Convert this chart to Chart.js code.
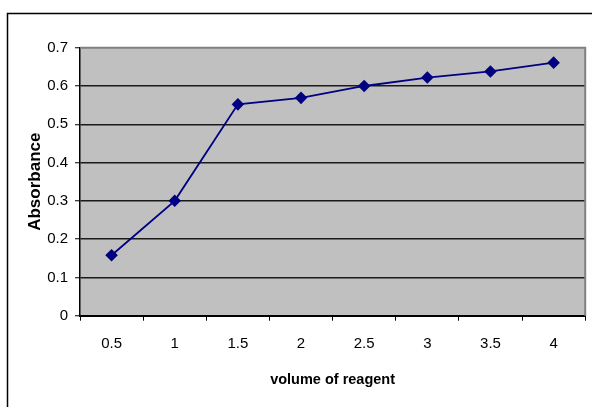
<!DOCTYPE html>
<html>
<head>
<meta charset="utf-8">
<script src="https://cdn.jsdelivr.net/npm/chart.js@4/dist/chart.umd.min.js"></script>
<style>
  html, body { margin: 0; padding: 0; background: #fff; }
  #wrap { width: 592px; height: 407px; position: relative; }
</style>
</head>
<body>
<div id="wrap"><canvas id="c" width="592" height="407"></canvas></div>
<script>
// Reagent volume (categories) and measured absorbance
const volumes = ['0.5', '1', '1.5', '2', '2.5', '3', '3.5', '4'];
const absorbance = [0.158, 0.300, 0.552, 0.569, 0.600, 0.622, 0.638, 0.661];
const yTicks = [0, 0.1, 0.2, 0.3, 0.4, 0.5, 0.6, 0.7];

const FONT = '"Liberation Sans", Arial, sans-serif';

// Grey plot background, grey plot frame and the black outer chart frame
const framePlugin = {
  id: 'frames',
  beforeDraw(chart) {
    const { ctx, chartArea: a } = chart;
    ctx.save();
    ctx.fillStyle = '#ffffff';
    ctx.fillRect(0, 0, chart.width, chart.height);
    ctx.fillStyle = '#c0c0c0';
    ctx.fillRect(a.left, a.top, a.right - a.left, a.bottom - a.top);
    // outer frame (left and top edges)
    ctx.strokeStyle = '#000';
    ctx.lineWidth = 1.5;
    ctx.beginPath();
    ctx.moveTo(7.5, chart.height + 2);
    ctx.lineTo(7.5, 13.5);
    ctx.lineTo(chart.width + 2, 13.5);
    ctx.stroke();
    ctx.restore();
  },
  afterDatasetsDraw(chart) {
    const { ctx, chartArea: a } = chart;
    ctx.save();
    ctx.strokeStyle = '#808080';
    ctx.lineWidth = 2;
    ctx.beginPath();
    ctx.moveTo(a.left, a.top);
    ctx.lineTo(a.right, a.top);
    ctx.lineTo(a.right, a.bottom);
    ctx.stroke();
    ctx.restore();
  }
};

new Chart(document.getElementById('c'), {
  type: 'line',
  data: {
    labels: volumes,
    datasets: [{
      data: absorbance,
      borderColor: '#000080',
      backgroundColor: '#000080',
      borderWidth: 1.8,
      pointStyle: 'rectRot',
      pointRadius: 5,
      pointHoverRadius: 5,
      pointBackgroundColor: '#000080',
      pointBorderColor: '#000080',
      tension: 0,
      fill: false
    }]
  },
  options: {
    responsive: false,
    animation: false,
    events: [],
    layout: { padding: { top: 47.7, right: 6.3, left: 0, bottom: 0 } },
    plugins: { legend: { display: false }, tooltip: { enabled: false } },
    scales: {
      x: {
        type: 'category',
        offset: true,
        afterFit(s) { s.height = 91.3; },
        grid: {
          offset: true,
          drawOnChartArea: false,
          drawTicks: true,
          tickLength: 5,
          tickColor: '#000',
          tickWidth: 1
        },
        border: { display: true, color: '#000', width: 2 },
        ticks: {
          color: '#000',
          font: { family: FONT, size: 15 },
          padding: 14,
          maxRotation: 0,
          autoSkip: false
        },
        title: {
          display: true,
          text: 'volume of reagent',
          color: '#000',
          font: { family: FONT, size: 14.5, weight: 'bold' },
          padding: { top: 0, bottom: 18.3 }
        }
      },
      y: {
        min: 0,
        max: 0.7,
        afterFit(s) { s.width = 80; },
        afterBuildTicks(s) { s.ticks = yTicks.map(v => ({ value: v })); },
        grid: {
          color(ctx) { return ctx.tick && ctx.tick.value >= 0.7 ? 'rgba(0,0,0,0)' : '#1a1a1a'; },
          lineWidth: 1.5,
          drawTicks: true,
          tickLength: 5,
          tickColor: '#000',
          tickWidth: 1
        },
        border: { display: true, color: '#000', width: 1.5 },
        ticks: {
          color: '#000',
          font: { family: FONT, size: 15 },
          padding: 7,
          callback(v) { return String(Number(v.toFixed(1))); }
        },
        title: {
          display: true,
          text: 'Absorbance',
          color: '#000',
          font: { family: FONT, size: 17, weight: 'bold' },
          padding: { top: 24.8, bottom: 0 }
        }
      }
    }
  },
  plugins: [framePlugin]
});
</script>
</body>
</html>
